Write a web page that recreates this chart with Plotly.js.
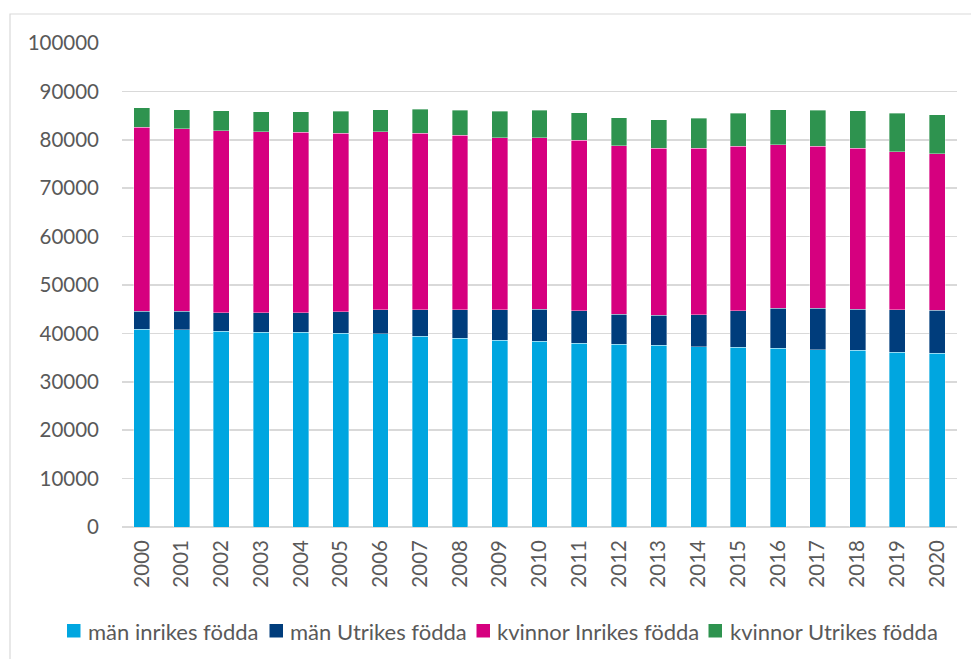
<!DOCTYPE html>
<html>
<head>
<meta charset="utf-8">
<script src="https://cdn.plot.ly/plotly-3.0.1.min.js"></script>
<style>html,body{margin:0;padding:0;background:#fff;}#chart{width:971px;height:659px;}</style>
</head>
<body>
<div id="chart"></div>
<script>
const years = ["2000","2001","2002","2003","2004","2005","2006","2007","2008","2009","2010","2011","2012","2013","2014","2015","2016","2017","2018","2019","2020"];
const manInrikes = [40890,40750,40480,40270,40200,40060,39920,39440,39030,38620,38350,38000,37790,37520,37240,37110,36900,36620,36490,36080,35940];
const manUtrikes = [3650,3790,3770,3980,4050,4400,4950,5430,5840,6250,6660,6670,6120,6190,6600,7560,8250,8530,8520,8790,8800];
const kvinnorInrikes = [38060,37730,37670,37400,37320,36900,36780,36490,36080,35540,35400,35250,34910,34560,34430,34010,33820,33470,33260,32650,32370];
const kvinnorUtrikes = [4000,3920,4060,4120,4270,4550,4600,4960,5160,5500,5670,5710,5780,5920,6190,6810,7220,7490,7710,7970,8040];
const seriesNames = ["män inrikes födda","män Utrikes födda","kvinnor Inrikes födda","kvinnor Utrikes födda"];
const colors = ["#00A6E0","#003D7C","#D6007F","#2E934F"];
const yTicks = [0,10000,20000,30000,40000,50000,60000,70000,80000,90000,100000];

// plot area geometry (pixels)
const W = 971, H = 659;
const M = {l: 122, r: 14, t: 43, b: 132};
const plotW = W - M.l - M.r, plotH = H - M.t - M.b;
const px2x = px => (px - M.l) / plotW;
const px2y = py => (H - M.b - py) / plotH;

const values = [manInrikes, manUtrikes, kvinnorInrikes, kvinnorUtrikes];
const traces = values.map((v, i) => ({
  type: "bar",
  x: years,
  y: v,
  name: seriesNames[i],
  marker: {color: colors[i], line: {width: 0.6, color: "rgba(255,255,255,0.6)"}},
  hoverinfo: "x+y+name"
}));

const font = "Lato, 'Open Sans', 'Liberation Sans', sans-serif";

// custom single-row legend (square + text), positions in pixels
const legendSquareX = [67, 269.5, 476.5, 708.5];
const legendTextX = [86, 287.5, 494.5, 727.5];
const legendCY = 631;
const shapes = [{
  type: "rect", xref: "paper", yref: "paper",
  x0: px2x(10), x1: px2x(1000), y0: px2y(700), y1: px2y(14),
  line: {color: "#D9D9D9", width: 1.2},
  fillcolor: "rgba(0,0,0,0)",
  layer: "below"
}];
const annotations = [];
seriesNames.forEach((n, i) => {
  shapes.push({
    type: "rect", xref: "paper", yref: "paper",
    x0: px2x(legendSquareX[i]), x1: px2x(legendSquareX[i] + 13.5),
    y0: px2y(legendCY - 7), y1: px2y(legendCY + 6.5),
    line: {width: 0}, fillcolor: colors[i]
  });
  annotations.push({
    xref: "paper", yref: "paper",
    x: px2x(legendTextX[i]), y: px2y(legendCY),
    xanchor: "left", yanchor: "middle",
    text: n, showarrow: false,
    font: {family: font, size: 22, color: "#595959"}
  });
});

const layout = {
  width: W, height: H,
  margin: {l: M.l, r: M.r, t: M.t, b: M.b, pad: 0},
  paper_bgcolor: "#ffffff",
  plot_bgcolor: "#ffffff",
  barmode: "stack",
  bargap: 0.6,
  showlegend: false,
  font: {family: font, color: "#595959", size: 20},
  xaxis: {
    type: "category",
    tickangle: -90,
    showgrid: false,
    showline: false,
    zeroline: false,
    ticks: "",
    automargin: false,
    ticklabelstandoff: 8,
    tickfont: {family: font, size: 20.5, color: "#595959"}
  },
  yaxis: {
    range: [0, 100000],
    tickvals: yTicks,
    ticktext: yTicks.map(String),
    showgrid: true,
    gridcolor: "#D9D9D9",
    gridwidth: 1.5,
    zeroline: true,
    zerolinecolor: "#D9D9D9",
    zerolinewidth: 1.5,
    showline: false,
    ticks: "",
    automargin: false,
    ticklabelstandoff: 22,
    tickfont: {family: font, size: 20.5, color: "#595959"}
  },
  shapes: shapes,
  annotations: annotations
};

Plotly.newPlot("chart", traces, layout, {displayModeBar: false, staticPlot: true});
</script>
</body>
</html>
